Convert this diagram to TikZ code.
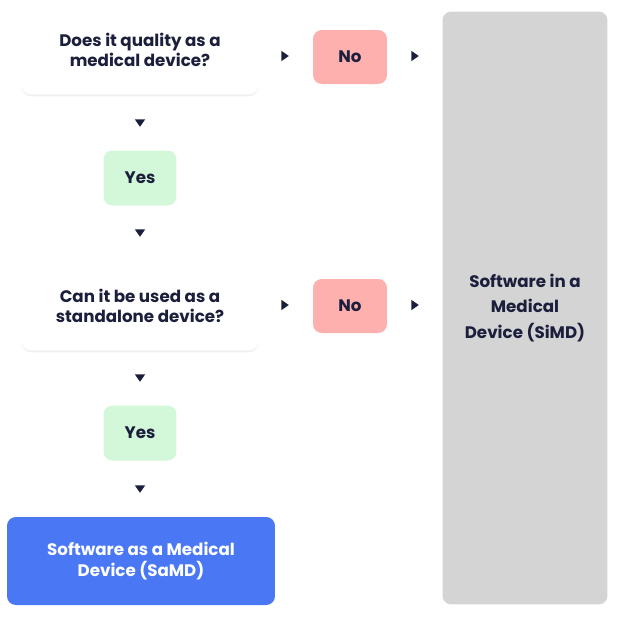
\documentclass[tikz,border=0pt]{standalone}
\usepackage{fontspec}
\setmainfont{Poppins}
\usetikzlibrary{shapes.geometric,shadows,positioning}
\definecolor{navy}{HTML}{1B1F3B}
\definecolor{nopink}{HTML}{FDB0AE}
\definecolor{yesgreen}{HTML}{D3F8D9}
\definecolor{samdblue}{HTML}{4A78F5}
\definecolor{simdgray}{HTML}{D4D4D4}
\begin{document}
\begin{tikzpicture}[
    x=0.02cm, y=-0.02cm,
    box/.style={rectangle, rounded corners=5pt, align=center, font=\fontsize{9.5}{11.5}\selectfont\bfseries, text=navy},
    question/.style={box, fill=white, minimum width=4.72cm, minimum height=1.78cm, drop shadow={shadow xshift=0pt, shadow yshift=-1pt, opacity=0.12}},
    answerno/.style={box, fill=nopink, minimum width=1.48cm, minimum height=1.08cm},
    answeryes/.style={box, fill=yesgreen, minimum width=1.46cm, minimum height=1.1cm},
    tip/.style={isosceles triangle, isosceles triangle apex angle=70, fill=navy, inner sep=0pt, minimum height=0.15cm, minimum width=0.17cm}
]
    \useasboundingbox (0,0) rectangle (640,637);
    % Outcome boxes
    \node[box, fill=simdgray, minimum width=3.3cm, minimum height=11.86cm] (simd) at (525,308) {Software in a\\[3pt] Medical\\[3pt] Device (SiMD)};
    \node[box, fill=samdblue, text=white, minimum width=5.36cm, minimum height=1.76cm] (samd) at (141,561) {Software as a Medical\\Device (SaMD)};

    % First question
    \node[question] (q1) at (140,50) {Does it quality as a\\medical device?};
    \node[tip] (t1) at (284,56) {};
    \node[answerno] (no1) at (350,57) {No};
    \node[tip] (t2) at (414,56) {};
    \node[tip, shape border rotate=-90] (t3) at (140,122) {};
    \node[answeryes] (yes1) at (140,178) {Yes};
    \node[tip, shape border rotate=-90] (t4) at (140,232) {};

    % Second question
    \node[question] (q2) at (140,306) {Can it be used as a\\standalone device?};
    \node[tip] (t5) at (284,305) {};
    \node[answerno] (no2) at (350,306) {No};
    \node[tip] (t6) at (414,305) {};
    \node[tip, shape border rotate=-90] (t7) at (140,377) {};
    \node[answeryes] (yes2) at (140,433) {Yes};
    \node[tip, shape border rotate=-90] (t8) at (140,488) {};
\end{tikzpicture}
\end{document}
